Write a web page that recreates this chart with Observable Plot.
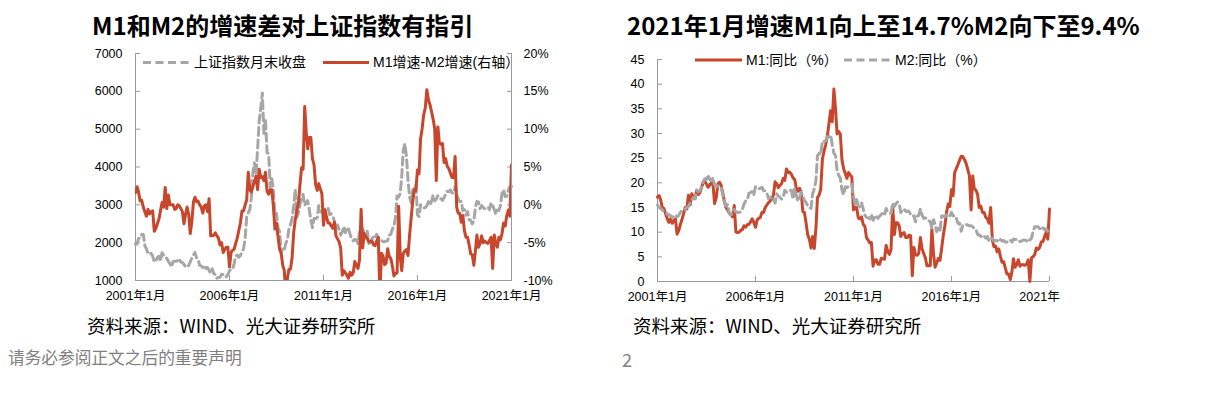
<!DOCTYPE html>
<html><head><meta charset="utf-8">
<script src="https://cdn.jsdelivr.net/npm/d3@7"></script>
<script src="https://cdn.jsdelivr.net/npm/@observablehq/plot@0.6"></script>
<style>
html,body{margin:0;padding:0;background:#fff;}
body{width:1221px;height:395px;overflow:hidden;position:relative;font-family:"Liberation Sans",Arial,"Noto Sans CJK SC",sans-serif;}
.abs{position:absolute;white-space:nowrap;}
.title{font-family:"Noto Sans CJK SC",sans-serif;font-weight:700;font-size:24px;line-height:24px;color:#000;}
.src{font-family:"Noto Sans CJK SC",sans-serif;font-size:18.5px;line-height:18px;color:#000;}
.foot{font-family:"Noto Sans CJK SC",sans-serif;font-size:16.7px;line-height:16px;color:#808080;}
.leg{font-family:"Liberation Sans",Arial,"Noto Sans CJK SC",sans-serif;font-size:14px;line-height:14px;color:#000;}
.chart{position:absolute;}
</style>
</head><body>
<div class="abs title" style="left:92px;top:13px;">M1和M2的增速差对上证指数有指引</div>
<div class="abs title" style="left:627px;top:13px;">2021年1月增速M1向上至14.7%M2向下至9.4%</div>

<div id="left" class="chart" style="left:60px;top:40px;"></div>
<div id="right" class="chart" style="left:600px;top:40px;"></div>

<svg class="abs" style="left:0;top:0;" width="1221" height="395" id="legendLayer"></svg>
<div class="abs leg" style="left:194px;top:55px;">上证指数月末收盘</div>
<div class="abs leg" style="left:373px;top:55px;">M1增速-M2增速(右轴）</div>
<div class="abs leg" style="left:746px;top:53px;">M1:同比（%）</div>
<div class="abs leg" style="left:895px;top:53px;">M2:同比（%）</div>

<div class="abs src" style="left:87px;top:316px;">资料来源：WIND、光大证券研究所</div>
<div class="abs src" style="left:633px;top:316px;">资料来源：WIND、光大证券研究所</div>
<div class="abs foot" style="left:8px;top:349px;">请务必参阅正文之后的重要声明</div>
<div class="abs foot" style="left:622px;top:350px;font-size:18px;line-height:18px;">2</div>

<script>
// ---------- DATA (monthly, 2001-01 .. 2021-01) ----------
const startYear = 2001, startMonth = 0, endYear = 2021, endMonth = 0;

// 上证指数月末收盘
const sse = [
1958,1964,2112,2120,2214,2218,1921,1834,1717,1690,1717,1646,
1491,1524,1604,1641,1516,1732,1668,1649,1582,1508,1447,1358,
1500,1512,1510,1521,1577,1487,1476,1422,1367,1349,1398,1497,
1590,1675,1742,1593,1555,1399,1386,1342,1396,1320,1340,1266,
1191,1307,1181,1159,1060,1080,1083,1162,1155,1092,1099,1161,
1258,1299,1298,1440,1642,1672,1612,1658,1753,1837,2099,2675,
2786,2881,3183,3841,4109,3821,4471,5218,5552,5954,4871,5262,
4383,4348,3473,3693,3433,2736,2775,2397,2293,1729,1871,1821,
1991,2082,2373,2477,2633,2959,3412,2668,2779,2996,3195,3277,
2989,3051,3110,2871,2592,2398,2638,2639,2656,2979,2820,2808,
2790,2906,2928,2911,2743,2762,2701,2568,2359,2469,2333,2199,
2293,2428,2263,2397,2373,2226,2103,2047,2086,2069,1980,2269,
2385,2366,2237,2178,2301,1979,1994,2098,2175,2142,2221,2116,
2033,2056,2033,2026,2039,2048,2202,2217,2364,2420,2683,3235,
3210,3310,3748,4442,4612,4277,3664,3206,3053,3383,3445,3539,
2738,2688,3004,2938,2917,2930,2979,3085,3005,3100,3250,3104,
3159,3242,3223,3155,3117,3192,3273,3361,3349,3393,3317,3307,
3481,3259,3169,3082,3095,2847,2876,2725,2821,2603,2588,2494,
2585,2941,3091,3078,2899,2979,2933,2886,2905,2929,2872,3050,
2977,2880,2750,2860,2852,2985,3310,3396,3218,3225,3392,3473,
3483];

// M1增速-M2增速 (%), right axis
const m1m2 = [
1.6,2.4,1.7,0.5,0.6,-0.3,-0.9,-1.5,-0.6,-1.2,-0.9,-0.8,
-3.5,-3.1,-2.5,-1.9,-0.8,0.3,-0.3,2.3,-0.5,1.3,0.0,0.0,
0.0,-0.6,-0.5,0.0,-0.1,-0.5,-0.9,-2.5,-1.2,-0.3,-1.3,-3.8,
-2.2,0.4,1.0,0.4,0.5,0.0,-0.3,-1.1,-0.1,0.0,-0.9,0.8,
-4.1,-4.1,-4.0,-3.7,-4.1,-4.4,-5.3,-5.0,-6.3,-5.9,-5.6,-5.6,
-8.2,-6.3,-6.0,-5.9,-5.1,-4.4,-3.4,-2.4,-0.8,-0.8,0.0,0.6,
4.3,2.0,1.7,2.4,3.1,3.8,2.0,4.7,3.6,3.7,3.2,4.3,
1.8,1.4,2.0,2.0,0.0,-3.2,-2.4,-4.2,-5.9,-6.4,-8.0,-8.7,
-12.1,-9.6,-8.5,-8.5,-7.0,-3.7,-2.0,-0.8,0.2,2.6,4.9,4.7,
13.0,9.5,7.4,8.9,8.9,6.1,5.3,2.7,1.9,2.8,2.1,1.5,
-2.7,-0.7,-1.6,-2.4,-2.4,-2.8,-3.1,-2.3,-4.1,-4.5,-4.9,-5.7,
-9.3,-8.7,-9.0,-9.3,-9.7,-8.9,-9.3,-9.0,-7.5,-8.0,-8.4,-7.3,
-0.6,-5.7,-3.8,-4.2,-4.5,-4.9,-4.8,-4.8,-5.3,-5.4,-4.8,-4.3,
-12.0,-6.4,-6.7,-7.9,-7.7,-5.8,-6.8,-7.1,-8.1,-9.4,-9.1,-9.0,
-0.2,-6.9,-8.7,-6.4,-6.1,-5.9,-6.7,-4.0,-1.7,0.5,2.0,1.9,
4.6,4.1,8.7,10.1,11.9,12.8,15.2,13.9,13.2,12.3,11.3,10.1,
3.2,10.3,8.2,8.0,8.1,5.6,6.1,5.1,4.8,4.2,3.6,3.6,
6.4,-0.3,-1.1,-1.1,-2.3,-1.4,-3.4,-4.3,-4.3,-5.3,-6.5,-6.6,
-8.0,-6.0,-4.0,-5.6,-5.1,-4.1,-5.0,-4.8,-5.0,-5.1,-4.7,-4.3,
-8.4,-4.0,-5.1,-5.6,-4.3,-4.6,-3.8,-2.4,-2.8,-1.4,-0.7,-1.5,
5.3];

// M1:同比（%）
const m1 = [
17.1,17.4,16.5,15.0,14.8,13.7,12.8,12.0,12.7,11.8,12.3,12.7,
9.6,10.3,11.5,12.5,13.7,15.0,14.7,17.5,15.5,17.8,17.0,16.8,
18.5,17.6,18.0,19.0,20.1,20.3,19.8,19.1,19.5,20.1,19.7,15.8,
17.0,19.8,20.1,19.5,18.0,16.2,15.0,14.5,13.8,13.5,13.1,15.4,
10.0,9.9,10.0,10.4,10.5,11.3,11.0,11.5,11.6,12.1,12.7,12.0,
11.0,12.5,12.8,13.0,14.0,14.0,15.0,15.5,16.0,16.3,16.8,17.5,
20.2,19.8,19.0,19.5,19.8,20.9,20.5,22.8,22.1,22.2,21.7,21.0,
20.7,18.9,18.3,18.9,18.1,14.2,14.0,11.8,9.4,8.6,6.8,9.1,
6.7,10.9,17.0,17.5,18.7,24.8,26.4,27.7,29.5,32.0,34.6,32.4,
39.0,35.0,29.9,30.4,29.9,24.6,22.9,21.9,20.9,22.1,21.6,21.2,
14.5,15.0,15.0,12.9,12.7,13.1,11.6,11.2,8.9,8.4,7.8,7.9,
3.1,4.3,4.4,3.5,3.5,4.7,4.6,4.5,7.3,6.1,5.5,6.5,
15.3,9.5,11.9,11.9,11.3,9.1,9.7,9.9,8.9,8.9,9.4,9.3,
1.2,6.9,5.4,5.3,5.7,8.9,6.7,5.7,4.8,3.2,3.2,3.2,
10.6,5.6,2.9,3.7,4.7,4.3,6.6,9.3,11.4,14.0,15.7,15.2,
18.6,17.4,22.1,22.9,23.7,24.6,25.4,25.3,24.7,23.9,22.7,21.4,
14.5,21.4,18.8,18.5,17.7,15.0,15.3,14.0,14.0,13.0,12.7,11.8,
15.0,8.5,7.1,7.2,6.0,6.6,5.1,3.9,4.0,2.7,1.5,1.5,
0.4,2.0,4.6,2.9,3.4,4.4,3.1,3.4,3.4,3.3,3.5,4.4,
0.0,4.8,5.0,5.5,6.8,6.5,6.9,8.0,8.1,9.1,10.0,8.6,
14.7];

// M2:同比（%）
const m2 = [
15.5,15.0,14.8,14.5,14.2,14.0,13.7,13.5,13.3,13.0,13.2,13.5,
13.1,13.4,14.0,14.4,14.5,14.7,15.0,15.2,16.0,16.5,17.0,16.8,
18.5,18.2,18.5,19.0,20.2,20.8,20.7,21.6,20.7,20.4,21.0,19.6,
19.2,19.4,19.1,19.1,17.5,16.2,15.3,15.6,13.9,13.5,14.0,14.6,
14.1,14.0,14.0,14.1,14.6,15.7,16.3,16.5,17.9,18.0,18.3,17.6,
19.2,18.8,18.8,18.9,19.1,18.4,18.4,17.9,16.8,17.1,16.8,16.9,
15.9,17.8,17.3,17.1,16.7,17.1,18.5,18.1,18.5,18.5,18.5,16.7,
18.9,17.5,16.3,16.9,18.1,17.4,16.4,16.0,15.3,15.0,14.8,17.8,
18.8,20.5,25.5,26.0,25.7,28.5,28.4,28.5,29.3,29.4,29.7,27.7,
26.0,25.5,22.5,21.5,21.0,18.5,17.6,19.2,19.0,19.3,19.5,19.7,
17.2,15.7,16.6,15.3,15.1,15.9,14.7,13.5,13.0,12.9,12.7,13.6,
12.4,13.0,13.4,12.8,13.2,13.6,13.9,13.5,14.8,14.1,13.9,13.8,
15.9,15.2,15.7,16.1,15.8,14.0,14.5,14.7,14.2,14.3,14.2,13.6,
13.2,13.3,12.1,13.2,13.4,14.7,13.5,12.8,12.9,12.6,12.3,12.2,
10.8,12.5,11.6,10.1,10.8,10.2,13.3,13.3,13.1,13.5,13.7,13.3,
14.0,13.3,13.4,12.8,11.8,11.8,10.2,11.4,11.5,11.6,11.4,11.3,
11.3,11.1,10.6,10.5,9.6,9.4,9.2,8.9,9.2,8.8,9.1,8.2,
8.6,8.8,8.2,8.3,8.3,8.0,8.5,8.2,8.3,8.0,8.0,8.1,
8.4,8.0,8.6,8.5,8.5,8.5,8.1,8.2,8.4,8.4,8.2,8.7,
8.4,8.8,10.1,11.1,11.1,11.1,10.7,10.4,10.9,10.5,10.7,10.1,
9.4];

// Axis ticks & labels
const tickYears = [2001, 2006, 2011, 2016, 2021];
const leftXLabels = ["2001年1月", "2006年1月", "2011年1月", "2016年1月", "2021年1月"];
const rightXLabels = ["2001年1月", "2006年1月", "2011年1月", "2016年1月", "2021年"];
const leftYTicks = [1000, 2000, 3000, 4000, 5000, 6000, 7000];
const rightAxisPct = [-10, -5, 0, 5, 10, 15, 20];
const rightAxisLabels = ["-10%", "-5%", "0%", "5%", "10%", "15%", "20%"];
const rYTicks = [0, 5, 10, 15, 20, 25, 30, 35, 40, 45];

// ---------- CHART ----------
const RED = "#C8462B", GRAY = "#A6A6A6", AXIS = "#9a9a9a";
const START = new Date(Date.UTC(startYear, startMonth, 1));
const END = new Date(Date.UTC(endYear, endMonth, 1));
const months = d3.utcMonth.range(START, d3.utcMonth.offset(END, 1));
const xTicks = tickYears.map(y => new Date(Date.UTC(y, 0, 1)));
const xi = d => xTicks.findIndex(t => +t === +d);

// dual axis: right % mapped linearly onto left index scale (-10% ↔ 1000, 20% ↔ 7000)
const pct = d3.scaleLinear().domain([-10, 20]).range([1000, 7000]);

const leftData = months.map((d, i) => ({date: d, sse: sse[i], diff: m1m2[i]}));
const rightData = months.map((d, i) => ({date: d, m1: m1[i], m2: m2[i]}));

const font = '"Liberation Sans", Arial, "Noto Sans CJK SC", sans-serif';

const leftPlot = Plot.plot({
  width: 520, height: 275,
  marginLeft: 75, marginRight: 69, marginTop: 13, marginBottom: 35,
  style: {fontFamily: font, fontSize: "12.5px", color: "#000", background: "transparent"},
  x: {type: "utc", domain: [START, END], label: null},
  y: {domain: [1000, 7000], label: null},
  marks: [
    Plot.ruleX([START], {stroke: AXIS}),
    Plot.ruleX([END], {stroke: AXIS}),
    Plot.ruleY([1000], {stroke: AXIS}),
    Plot.axisY(leftYTicks, {anchor: "left", tickSize: 0, tickPadding: 13, tickFormat: d => String(d), label: null}),
    Plot.axisY(leftYTicks, {anchor: "left", tickSize: 5, dx: 5, fill: "none", stroke: AXIS, label: null}),
    Plot.axisY(rightAxisPct.map(p => pct(p)), {anchor: "right", tickSize: 0, tickPadding: 12,
      tickFormat: v => rightAxisLabels[rightAxisPct.findIndex(p => Math.abs(pct(p) - v) < 1e-6)], label: null}),
    Plot.axisY(rightAxisPct.map(p => pct(p)), {anchor: "right", tickSize: 5, dx: -5, fill: "none", stroke: AXIS, label: null}),
    Plot.axisX(xTicks, {anchor: "bottom", tickSize: 0, tickPadding: 11, tickFormat: d => leftXLabels[xi(d)], label: null}),
    Plot.axisX(xTicks, {anchor: "bottom", tickSize: 5, dy: -5, fill: "none", stroke: AXIS, label: null}),
    Plot.lineY(leftData, {x: "date", y: "sse", stroke: GRAY, strokeWidth: 3, strokeDasharray: "8,4.5"}),
    Plot.lineY(leftData, {x: "date", y: d => pct(d.diff), stroke: RED, strokeWidth: 3, clip: true})
  ]
});
document.getElementById("left").appendChild(leftPlot);

const rightPlot = Plot.plot({
  width: 480, height: 275,
  marginLeft: 57, marginRight: 31, marginTop: 19, marginBottom: 34,
  style: {fontFamily: font, fontSize: "12.5px", color: "#000", background: "transparent"},
  x: {type: "utc", domain: [START, END], label: null},
  y: {domain: [0, 45], label: null},
  marks: [
    Plot.ruleX([START], {stroke: AXIS}),
    Plot.ruleY([0], {stroke: AXIS}),
    Plot.axisY(rYTicks, {anchor: "left", tickSize: 0, tickPadding: 13, tickFormat: d => String(d), label: null}),
    Plot.axisY(rYTicks, {anchor: "left", tickSize: 5, dx: 5, fill: "none", stroke: AXIS, label: null}),
    Plot.axisX(xTicks.slice(0, 4), {anchor: "bottom", tickSize: 0, tickPadding: 11, tickFormat: d => rightXLabels[xi(d)], label: null}),
    Plot.axisX(xTicks.slice(4), {anchor: "bottom", tickSize: 0, tickPadding: 11, dx: -10, tickFormat: d => rightXLabels[xi(d)], label: null}),
    Plot.axisX(xTicks, {anchor: "bottom", tickSize: 5, dy: -5, fill: "none", stroke: AXIS, label: null}),
    Plot.lineY(rightData, {x: "date", y: "m1", stroke: RED, strokeWidth: 3}),
    Plot.lineY(rightData, {x: "date", y: "m2", stroke: GRAY, strokeWidth: 3, strokeDasharray: "8,4.5"})
  ]
});
document.getElementById("right").appendChild(rightPlot);

// ---------- LEGEND SAMPLES ----------
const lg = d3.select("#legendLayer");
const samples = [
  {x1: 143, x2: 190, y: 62.5, color: GRAY, dash: "8,4.5"},
  {x1: 323, x2: 369, y: 62.5, color: RED, dash: null},
  {x1: 695, x2: 742, y: 60, color: RED, dash: null},
  {x1: 844, x2: 890, y: 60, color: GRAY, dash: "8,4.5"}
];
samples.forEach(s => {
  lg.append("line").attr("x1", s.x1).attr("x2", s.x2).attr("y1", s.y).attr("y2", s.y)
    .attr("stroke", s.color).attr("stroke-width", 3).attr("stroke-dasharray", s.dash);
});
</script>
</body></html>
